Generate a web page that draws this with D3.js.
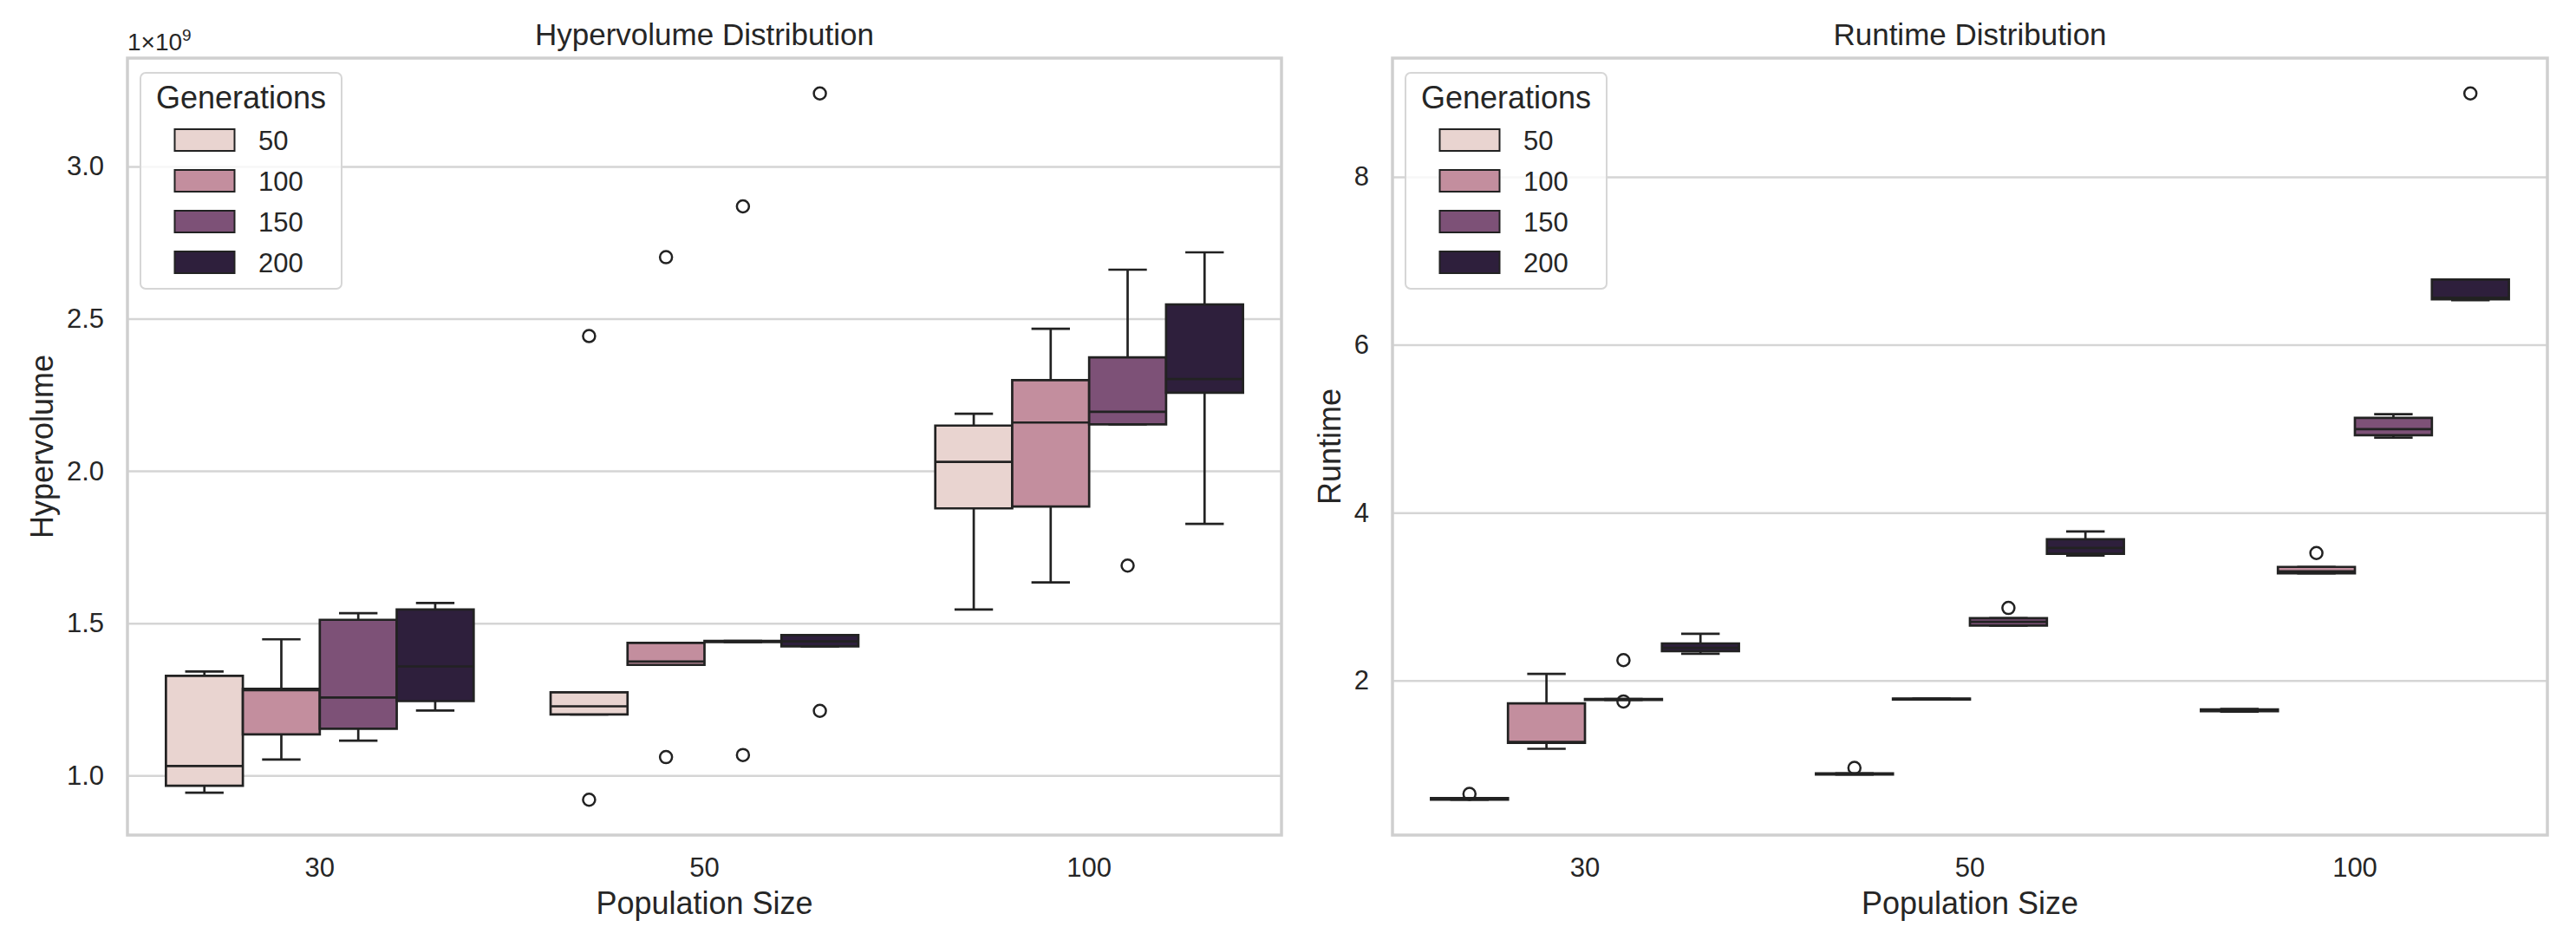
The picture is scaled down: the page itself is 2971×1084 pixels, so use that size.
<!DOCTYPE html>
<html lang="en">
<head>
<meta charset="UTF-8">
<title>Hypervolume and Runtime Distribution</title>
<script src="https://cdnjs.cloudflare.com/ajax/libs/d3/7.8.5/d3.min.js"></script>
<style>
    body { margin: 0; background: #fff; }
    svg { display: block; font-family: "Liberation Sans", Arial, sans-serif; }
    text { fill: #262626; }
</style>
</head>
<body>
<svg id="chart" width="2971" height="1084"></svg>
<script>
    // categories
    const popSizes = ["30", "50", "100"];
    const generations = ["50", "100", "150", "200"];
    const genColors = ["#e9d4d0", "#c38e9e", "#7d5177", "#2e1f3c"];

    // Hypervolume (units of 1e9), order: pop 30 gens 50..200, pop 50 ..., pop 100 ...
    const hvLow    = [0.943, 1.052, 1.114, 1.213,  1.200, 1.363, 1.438, 1.424,  1.545, 1.634, 2.153, 1.826];
    const hvQ1     = [0.966, 1.135, 1.153, 1.244,  1.200, 1.363, 1.438, 1.424,  1.877, 1.883, 2.153, 2.257];
    const hvMedian = [1.031, 1.280, 1.256, 1.358,  1.227, 1.374, 1.440, 1.440,  2.030, 2.159, 2.194, 2.302];
    const hvQ3     = [1.327, 1.284, 1.511, 1.545,  1.273, 1.435, 1.442, 1.461,  2.149, 2.298, 2.373, 2.547];
    const hvHigh   = [1.341, 1.447, 1.533, 1.566,  1.273, 1.435, 1.442, 1.461,  2.188, 2.467, 2.661, 2.718];
    const hvOutliers = [
        ["50", "50", 0.920], ["50", "50", 2.443],
        ["50", "100", 1.060], ["50", "100", 2.702],
        ["50", "150", 1.067], ["50", "150", 2.869],
        ["50", "200", 1.212], ["50", "200", 3.240],
        ["100", "150", 1.689]
    ];
    const hvTicks = [1.0, 1.5, 2.0, 2.5, 3.0];

    // Runtime, same order
    const rtLow    = [0.580, 1.187, 1.770, 2.320,  0.880, 1.775, 2.656, 3.490,  1.630, 3.277, 4.895, 6.530];
    const rtQ1     = [0.580, 1.258, 1.770, 2.349,  0.880, 1.775, 2.656, 3.511,  1.635, 3.277, 4.923, 6.541];
    const rtMedian = [0.590, 1.270, 1.775, 2.390,  0.888, 1.780, 2.700, 3.580,  1.645, 3.300, 4.995, 6.560];
    const rtQ3     = [0.600, 1.729, 1.780, 2.442,  0.895, 1.785, 2.742, 3.683,  1.655, 3.354, 5.130, 6.777];
    const rtHigh   = [0.600, 2.080, 1.780, 2.557,  0.895, 1.785, 2.742, 3.776,  1.660, 3.354, 5.173, 6.777];
    const rtOutliers = [
        ["30", "50", 0.650],
        ["30", "150", 2.243], ["30", "150", 1.751],
        ["50", "50", 0.960],
        ["50", "150", 2.865],
        ["100", "100", 3.519],
        ["100", "200", 8.994]
    ];
    const rtTicks = [2, 4, 6, 8];

    const svg = d3.select("#chart");
    const lineColor = "#222";

    function drawPanel(cfg) {
        const g = svg.append("g");
        const top = 67, bottom = 963;
        const w = cfg.right - cfg.left;

        // build one record per box
        const boxes = popSizes.flatMap((p, i) => generations.map((gen, j) => {
            const k = i * generations.length + j;
            return { pop: p, gen: gen, low: cfg.low[k], q1: cfg.q1[k], med: cfg.med[k], q3: cfg.q3[k], high: cfg.high[k] };
        }));

        const allVals = boxes.flatMap(b => [b.low, b.high]).concat(cfg.outliers.map(o => o[2]));
        const [mn, mx] = d3.extent(allVals);
        const pad = (mx - mn) * 0.05;

        const x = d3.scaleBand().domain(popSizes).range([cfg.left, cfg.right]);
        const xInner = d3.scaleBand().domain(generations).range([0, x.bandwidth() * 0.8]);
        const y = d3.scaleLinear().domain([mn - pad, mx + pad]).range([bottom, top]);
        const color = d3.scaleOrdinal().domain(generations).range(genColors);
        const boxX = (p, gen) => x(p) + x.bandwidth() * 0.1 + xInner(gen);
        const bw = xInner.bandwidth();

        // grid
        const grid = g.append("g")
            .attr("transform", `translate(${cfg.left},0)`)
            .call(d3.axisLeft(y).tickValues(cfg.ticks).tickSize(-w).tickPadding(27).tickFormat(cfg.fmt));
        grid.select(".domain").remove();
        grid.selectAll("line").attr("stroke", "#d5d5d5").attr("stroke-width", 2.5);
        grid.selectAll("text").attr("font-size", 31).attr("fill", "#262626");

        const xAxis = g.append("g")
            .attr("transform", `translate(0,${bottom})`)
            .call(d3.axisBottom(x).tickSize(0).tickPadding(26));
        xAxis.select(".domain").remove();
        xAxis.selectAll("text").attr("font-size", 31).attr("fill", "#262626");

        // frame
        g.append("rect")
            .attr("x", cfg.left).attr("y", top)
            .attr("width", w).attr("height", bottom - top)
            .attr("fill", "none").attr("stroke", "#cfcfcf").attr("stroke-width", 3.5);

        const bg = g.append("g").selectAll("g").data(boxes).join("g");
        // whiskers
        bg.append("line")
            .attr("x1", d => boxX(d.pop, d.gen) + bw / 2).attr("x2", d => boxX(d.pop, d.gen) + bw / 2)
            .attr("y1", d => y(d.q3)).attr("y2", d => y(d.high));
        bg.append("line")
            .attr("x1", d => boxX(d.pop, d.gen) + bw / 2).attr("x2", d => boxX(d.pop, d.gen) + bw / 2)
            .attr("y1", d => y(d.q1)).attr("y2", d => y(d.low));
        bg.append("line")
            .attr("x1", d => boxX(d.pop, d.gen) + bw / 4).attr("x2", d => boxX(d.pop, d.gen) + bw * 3 / 4)
            .attr("y1", d => y(d.high)).attr("y2", d => y(d.high));
        bg.append("line")
            .attr("x1", d => boxX(d.pop, d.gen) + bw / 4).attr("x2", d => boxX(d.pop, d.gen) + bw * 3 / 4)
            .attr("y1", d => y(d.low)).attr("y2", d => y(d.low));
        // box
        bg.append("path")
            .attr("d", d => {
                const x0 = boxX(d.pop, d.gen);
                return `M${x0},${y(d.q3)}H${x0 + bw}V${y(d.q1)}H${x0}Z`;
            })
            .attr("fill", d => color(d.gen));
        // median
        bg.append("line")
            .attr("x1", d => boxX(d.pop, d.gen)).attr("x2", d => boxX(d.pop, d.gen) + bw)
            .attr("y1", d => y(d.med)).attr("y2", d => y(d.med));
        bg.selectAll("line, path")
            .attr("stroke", lineColor).attr("stroke-width", 2.7);

        // fliers
        g.append("g").selectAll("circle").data(cfg.outliers).join("circle")
            .attr("cx", d => boxX(d[0], d[1]) + bw / 2)
            .attr("cy", d => y(d[2]))
            .attr("r", 7)
            .attr("fill", "none").attr("stroke", lineColor).attr("stroke-width", 2.5);

        // title and labels
        g.append("text")
            .attr("x", (cfg.left + cfg.right) / 2).attr("y", 52)
            .attr("text-anchor", "middle").attr("font-size", 35)
            .text(cfg.title);
        g.append("text")
            .attr("x", (cfg.left + cfg.right) / 2).attr("y", 1054)
            .attr("text-anchor", "middle").attr("font-size", 36)
            .text("Population Size");
        const maxTickW = d3.max(grid.selectAll("text").nodes(), n => n.getBBox().width);
        const labX = cfg.left - 27 - maxTickW - 16;
        g.append("text")
            .attr("transform", `translate(${labX},${(top + bottom) / 2}) rotate(-90)`)
            .attr("text-anchor", "middle").attr("font-size", 36)
            .text(cfg.ylabel);

        if (cfg.offset) {
            const t = g.append("text").attr("x", cfg.left).attr("y", 58).attr("font-size", 28);
            t.append("tspan").text(cfg.offset);
            t.append("tspan").attr("dy", -11).attr("font-size", 19).text(cfg.offsetExp);
        }

        // legend
        const lg = g.append("g").attr("transform", `translate(${cfg.left + 15},84)`);
        lg.append("rect")
            .attr("width", 232).attr("height", 249).attr("rx", 6)
            .attr("fill", "#fff").attr("fill-opacity", 0.8)
            .attr("stroke", "#d6d6d6").attr("stroke-width", 2);
        lg.append("text")
            .attr("x", 116).attr("y", 41)
            .attr("text-anchor", "middle").attr("font-size", 36)
            .text("Generations");
        const items = lg.selectAll("g.item").data(generations).join("g")
            .attr("class", "item")
            .attr("transform", (d, i) => `translate(0,${77.5 + i * 47})`);
        items.append("rect")
            .attr("x", 39.5).attr("y", -12.5).attr("width", 69).attr("height", 25)
            .attr("fill", d => color(d)).attr("stroke", lineColor).attr("stroke-width", 2);
        items.append("text")
            .attr("x", 136).attr("y", 11.5).attr("font-size", 31)
            .text(d => d);
    }

    drawPanel({
        left: 147, right: 1478,
        title: "Hypervolume Distribution", ylabel: "Hypervolume",
        low: hvLow, q1: hvQ1, med: hvMedian, q3: hvQ3, high: hvHigh,
        outliers: hvOutliers, ticks: hvTicks, fmt: d3.format(".1f"),
        offset: "1\u00d710", offsetExp: "9"
    });

    drawPanel({
        left: 1606, right: 2938,
        title: "Runtime Distribution", ylabel: "Runtime",
        low: rtLow, q1: rtQ1, med: rtMedian, q3: rtQ3, high: rtHigh,
        outliers: rtOutliers, ticks: rtTicks, fmt: d3.format("d")
    });
</script>
</body>
</html>
